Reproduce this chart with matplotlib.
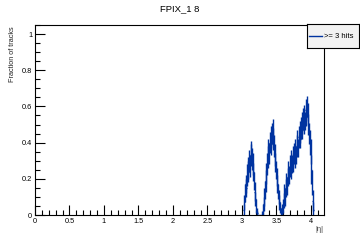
"""
FPIX_1 8 fraction of tracks vs |eta|, ROOT-like style.
"""
import numpy as np
import matplotlib
matplotlib.use("Agg")
import matplotlib.pyplot as plt
from matplotlib.ticker import MultipleLocator
from matplotlib.lines import Line2D

plt.rcParams["font.family"] = ["Liberation Sans", "DejaVu Sans"]

LINE_BLUE = "#0033a0"

# histogram bins (|eta|), width 0.01 starting at 3.00
bin_start = 3.00
bin_width = 0.01
fraction = [
    0, 0, 0.03, 0.07, 0.12, 0.17, 0.15, 0.22, 0.26, 0.24,
    0.30, 0.27, 0.33, 0.35, 0.31, 0.28, 0.24, 0.19, 0.13, 0.09,
    0.05, 0.02, 0.01, 0, 0, 0, 0, 0, 0, 0.01,
    0.03, 0.06, 0.10, 0.14, 0.19, 0.23, 0.28, 0.32, 0.36, 0.34,
    0.40, 0.43, 0.39, 0.45, 0.47, 0.42, 0.38, 0.33, 0.29, 0.25,
    0.21, 0.17, 0.13, 0.10, 0.07, 0.04, 0.02, 0.01, 0.03, 0.05,
    0.08, 0.12, 0.10, 0.15, 0.18, 0.16, 0.21, 0.24, 0.22, 0.27,
    0.25, 0.30, 0.28, 0.32, 0.29, 0.34, 0.31, 0.36, 0.33, 0.38,
    0.41, 0.37, 0.43, 0.46, 0.42, 0.48, 0.51, 0.47, 0.53, 0.50,
    0.55, 0.52, 0.58, 0.54, 0.60, 0.56, 0.50, 0.45, 0.40, 0.35,
    0.25, 0.18, 0.08, 0.03, 0,
]
errors = [
    0, 0, 0.03, 0.04, 0.05, 0.05, 0.05, 0.06, 0.06, 0.06,
    0.06, 0.06, 0.06, 0.06, 0.06, 0.06, 0.05, 0.05, 0.05, 0.04,
    0.04, 0.02, 0.01, 0, 0, 0, 0, 0, 0, 0.01,
    0.03, 0.04, 0.05, 0.05, 0.06, 0.06, 0.06, 0.06, 0.06, 0.06,
    0.06, 0.06, 0.06, 0.06, 0.06, 0.06, 0.06, 0.06, 0.05, 0.05,
    0.05, 0.05, 0.04, 0.04, 0.04, 0.03, 0.02, 0.01, 0.03, 0.04,
    0.04, 0.05, 0.05, 0.05, 0.05, 0.05, 0.05, 0.06, 0.05, 0.06,
    0.05, 0.06, 0.05, 0.06, 0.05, 0.06, 0.05, 0.06, 0.05, 0.06,
    0.06, 0.05, 0.06, 0.06, 0.05, 0.06, 0.06, 0.05, 0.06, 0.05,
    0.06, 0.05, 0.06, 0.05, 0.06, 0.06, 0.06, 0.06, 0.07, 0.07,
    0.08, 0.07, 0.06, 0.04, 0,
]

fraction = np.array(fraction)
errors = np.array(errors)
centers = bin_start + bin_width * (np.arange(len(fraction)) + 0.5)

fig = plt.figure(figsize=(3.6, 2.4), dpi=100)
ax = fig.add_axes([0.097, 0.104, 0.803, 0.792])

ax.errorbar(centers, fraction, xerr=bin_width / 2, yerr=errors, fmt="none",
            ecolor=LINE_BLUE, elinewidth=1.0, capsize=0)

ax.set_xlim(0, 4.19)
ax.set_ylim(0, 1.05)

# ROOT-like ticks: inside, bottom/left only
ax.xaxis.set_major_locator(MultipleLocator(0.5))
ax.xaxis.set_minor_locator(MultipleLocator(0.1))
ax.yaxis.set_major_locator(MultipleLocator(0.2))
ax.yaxis.set_minor_locator(MultipleLocator(0.05))
ax.tick_params(which="both", direction="in", top=False, right=False,
               labelsize=5.3, width=0.8, pad=2)
ax.tick_params(which="major", length=7)
ax.tick_params(which="minor", length=3.5)
ax.xaxis.set_major_formatter(lambda v, p: f"{v:g}")
ax.yaxis.set_major_formatter(lambda v, p: f"{v:g}")
for s in ax.spines.values():
    s.set_linewidth(0.8)

fig.text(0.5, 0.965, "FPIX_1 8", ha="center", va="center", fontsize=6.8)
fig.text(0.035, 0.89, "Fraction of tracks", rotation=90, ha="center",
         va="top", fontsize=5.2, color="#222222")
fig.text(0.897, 0.045, "|\u03b7|", ha="right", va="center", fontsize=5.5,
         color="#444444")

# legend box
leg_ax = fig.add_axes([0.852, 0.80, 0.146, 0.098])
leg_ax.set_xlim(0, 1)
leg_ax.set_ylim(0, 1)
leg_ax.set_xticks([])
leg_ax.set_yticks([])
leg_ax.set_facecolor("#f2f2f2")
for s in leg_ax.spines.values():
    s.set_linewidth(0.8)
leg_ax.add_line(Line2D([0.05, 0.3], [0.5, 0.5], color=LINE_BLUE, lw=1.0))
leg_ax.text(0.33, 0.5, ">= 3 hits", ha="left", va="center", fontsize=5.5)

fig.savefig("out.png", dpi=100, facecolor="white")
plt.close(fig)
